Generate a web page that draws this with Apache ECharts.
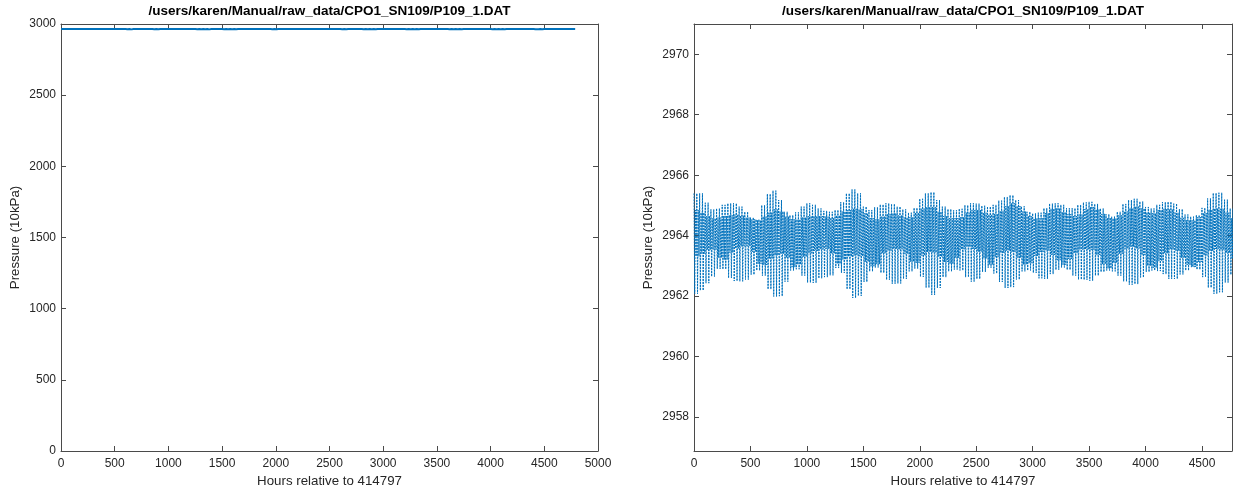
<!DOCTYPE html>
<html>
<head>
<meta charset="utf-8">
<script src="https://cdn.jsdelivr.net/npm/echarts@6/dist/echarts.min.js"></script>
<style>
  html, body { margin: 0; padding: 0; background: #ffffff; }
  #chart { width: 1233px; height: 490px; }
</style>
</head>
<body>
<div id="chart"></div>
<script>
// Pressure record P109_1: tidal high/low levels read in 50-hour windows.
const hours = [
  0, 50, 100, 150, 200, 250, 300, 350, 400, 450, 500, 550, 600, 650, 700, 750,
  800, 850, 900, 950, 1000, 1050, 1100, 1150, 1200, 1250, 1300, 1350, 1400, 1450, 1500, 1550,
  1600, 1650, 1700, 1750, 1800, 1850, 1900, 1950, 2000, 2050, 2100, 2150, 2200, 2250, 2300, 2350,
  2400, 2450, 2500, 2550, 2600, 2650, 2700, 2750, 2800, 2850, 2900, 2950, 3000, 3050, 3100, 3150,
  3200, 3250, 3300, 3350, 3400, 3450, 3500, 3550, 3600, 3650, 3700, 3750, 3800, 3850, 3900, 3950,
  4000, 4050, 4100, 4150, 4200, 4250, 4300, 4350, 4400, 4450, 4500, 4550, 4600, 4650, 4700, 4750
];

// higher high water (10kPa)
const higherHigh = [
  2965.40, 2965.40, 2965.09, 2964.87, 2964.90, 2965.02, 2965.07, 2965.07, 2964.96, 2964.79, 2964.60, 2964.54,
  2965.01, 2965.38, 2965.49, 2965.18, 2964.79, 2964.68, 2964.77, 2964.96, 2965.07, 2965.02, 2964.90, 2964.82,
  2964.79, 2964.85, 2965.11, 2965.40, 2965.53, 2965.40, 2964.96, 2964.85, 2964.94, 2965.03, 2965.07, 2965.05,
  2964.96, 2964.87, 2964.76, 2964.92, 2965.22, 2965.40, 2965.44, 2965.18, 2964.96, 2964.88, 2964.84,
  2964.89, 2965.01, 2965.07, 2965.06, 2964.99, 2964.96, 2965.02, 2965.16, 2965.28, 2965.34, 2965.18, 2964.97,
  2964.79, 2964.74, 2964.76, 2964.91, 2965.06, 2965.07, 2965.02, 2964.91, 2964.91, 2965.02, 2965.10,
  2965.12, 2965.05, 2964.90, 2964.71, 2964.63, 2964.79, 2965.05, 2965.18, 2965.22, 2965.13, 2964.95, 2964.90,
  2965.02, 2965.11, 2965.12, 2965.06, 2964.88, 2964.70, 2964.63, 2964.68, 2964.92, 2965.23, 2965.41, 2965.42,
  2965.19, 2964.90
];

// lower low water
const lowerLow = [
  2962.08, 2962.19, 2962.43, 2962.65, 2962.90, 2962.89, 2962.60, 2962.50, 2962.49, 2962.55, 2962.71, 2962.85,
  2962.68, 2962.23, 2961.99, 2962.00, 2962.48, 2962.85, 2962.89, 2962.68, 2962.45, 2962.44, 2962.59, 2962.63,
  2962.69, 2962.93, 2962.77, 2962.23, 2961.94, 2962.01, 2962.47, 2962.82, 2962.95, 2962.77, 2962.54, 2962.41,
  2962.42, 2962.57, 2962.82, 2962.91, 2962.64, 2962.28, 2962.04, 2962.27, 2962.63, 2962.82, 2962.88,
  2962.85, 2962.63, 2962.48, 2962.57, 2962.80, 2962.94, 2962.75, 2962.47, 2962.27, 2962.30, 2962.55, 2962.82,
  2962.85, 2962.77, 2962.59, 2962.57, 2962.73, 2962.87, 2962.95, 2962.87, 2962.68, 2962.55, 2962.54,
  2962.51, 2962.68, 2962.80, 2962.85, 2962.82, 2962.68, 2962.49, 2962.38, 2962.40, 2962.62, 2962.80, 2962.85,
  2962.83, 2962.73, 2962.57, 2962.57, 2962.72, 2962.85, 2962.96, 2962.88, 2962.63, 2962.28, 2962.08, 2962.13,
  2962.45, 2962.71
];

// lower high water
const lowerHigh = [
  2964.85, 2964.76, 2964.65, 2964.57, 2964.60, 2964.65, 2964.68, 2964.70, 2964.66, 2964.60, 2964.54, 2964.51,
  2964.63, 2964.76, 2964.87, 2964.80, 2964.63, 2964.54, 2964.54, 2964.60, 2964.65, 2964.65, 2964.65, 2964.63,
  2964.59, 2964.67, 2964.80, 2964.85, 2964.89, 2964.87, 2964.74, 2964.58, 2964.54, 2964.63, 2964.72, 2964.74,
  2964.67, 2964.60, 2964.61, 2964.76, 2964.90, 2964.95, 2964.95, 2964.79, 2964.65, 2964.58, 2964.58,
  2964.61, 2964.76, 2964.85, 2964.85, 2964.76, 2964.70, 2964.72, 2964.82, 2964.98, 2965.07, 2964.98, 2964.80,
  2964.65, 2964.57, 2964.57, 2964.75, 2964.89, 2964.90, 2964.78, 2964.71, 2964.65, 2964.70, 2964.88,
  2964.95, 2964.87, 2964.72, 2964.59, 2964.57, 2964.67, 2964.80, 2964.91, 2964.96, 2964.90, 2964.77, 2964.74,
  2964.85, 2964.89, 2964.87, 2964.76, 2964.59, 2964.51, 2964.51, 2964.61, 2964.75, 2964.86, 2964.90, 2964.89,
  2964.76, 2964.57
];

// higher low water
const higherLow = [
  2963.32, 2963.41, 2963.53, 2963.54, 2963.27, 2963.21, 2963.44, 2963.58, 2963.65, 2963.66, 2963.47, 2963.07,
  2963.03, 2963.25, 2963.35, 2963.40, 2963.27, 2962.96, 2963.05, 2963.30, 2963.42, 2963.50, 2963.55, 2963.56,
  2963.42, 2963.07, 2963.21, 2963.31, 2963.35, 2963.32, 2963.14, 2962.99, 2963.06, 2963.42, 2963.51, 2963.56,
  2963.55, 2963.40, 2963.14, 2963.10, 2963.34, 2963.46, 2963.44, 2963.30, 2963.13, 2963.07, 2963.27,
  2963.55, 2963.63, 2963.56, 2963.47, 2963.25, 2963.05, 2963.29, 2963.43, 2963.51, 2963.46, 2963.27, 2963.05,
  2963.09, 2963.33, 2963.47, 2963.51, 2963.36, 2963.19, 2963.04, 2963.23, 2963.42, 2963.54, 2963.55,
  2963.53, 2963.36, 2963.06, 2962.92, 2963.10, 2963.40, 2963.57, 2963.64, 2963.58, 2963.36, 2963.01, 2962.94,
  2963.16, 2963.42, 2963.55, 2963.50, 2963.27, 2963.03, 2962.97, 2963.13, 2963.35, 2963.50, 2963.56, 2963.53,
  2963.43, 2963.24
];

const lastHour = 4766;
const fullXTicks = [0, 500, 1000, 1500, 2000, 2500, 3000, 3500, 4000, 4500, 5000];
const fullYTicks = [0, 500, 1000, 1500, 2000, 2500, 3000];
const zoomXTicks = [0, 500, 1000, 1500, 2000, 2500, 3000, 3500, 4000, 4500];
const zoomYTicks = [2958, 2960, 2962, 2964, 2966, 2968, 2970];

const titleText = '/users/karen/Manual/raw_data/CPO1_SN109/P109_1.DAT';
const xName = 'Hours relative to 414797';
const yName = 'Pressure (10kPa)';

// Within each 50-hour window the tide turns about every 6.25 hours:
// higher high, lower low, lower high, higher low, then the same again.
const TURN = 6.25;
const pressure = [];
hours.forEach((h, i) => {
  const cycle = [higherHigh[i], lowerLow[i], lowerHigh[i], higherLow[i]];
  for (let k = 0; k < 8; k++) {
    pressure.push([h + k * TURN, cycle[k % 4]]);
  }
});

const FONT = '"Liberation Sans", Arial, Helvetica, sans-serif';
const INK = '#262626';
const AXIS = '#4a4a4a';
const BLUE = '#0072BD';
const TICK_SIZE = 12;
const NAME_SIZE = 13.3;

const GRIDS = [
  { left: 61, top: 24, width: 537, height: 427, outerBoundsMode: 'none', containLabel: false },
  { left: 694, top: 24, width: 538, height: 427, outerBoundsMode: 'none', containLabel: false }
];

const plainNumber = v => String(v);

function xPair(gridIndex, min, max, ticks) {
  const common = {
    type: 'value', gridIndex, min, max,
    splitLine: { show: false },
    axisLine: { show: true, onZero: false, lineStyle: { color: AXIS, width: 1 } },
    axisTick: { show: true, inside: true, length: 5, customValues: ticks, lineStyle: { color: AXIS, width: 1 } }
  };
  return [
    Object.assign({}, common, {
      position: 'bottom',
      name: xName, nameLocation: 'middle', nameGap: 22,
      nameTextStyle: { color: INK, fontSize: NAME_SIZE, fontFamily: FONT },
      axisLabel: { customValues: ticks, formatter: plainNumber, margin: 7, color: INK, fontSize: TICK_SIZE, fontFamily: FONT }
    }),
    Object.assign({}, common, { position: 'top', axisLabel: { show: false } })
  ];
}

function yPair(gridIndex, min, max, ticks) {
  const common = {
    type: 'value', gridIndex, min, max,
    splitLine: { show: false },
    axisLine: { show: true, onZero: false, lineStyle: { color: AXIS, width: 1 } },
    axisTick: { show: true, inside: true, length: 5, customValues: ticks, lineStyle: { color: AXIS, width: 1 } }
  };
  return [
    Object.assign({}, common, {
      position: 'left',
      name: yName, nameLocation: 'middle', nameGap: 39, nameRotate: 90,
      nameTextStyle: { color: INK, fontSize: NAME_SIZE, fontFamily: FONT },
      axisLabel: { customValues: ticks, formatter: plainNumber, margin: 5, color: INK, fontSize: TICK_SIZE, fontFamily: FONT }
    }),
    Object.assign({}, common, { position: 'right', axisLabel: { show: false } })
  ];
}

const chart = echarts.init(document.getElementById('chart'), null, { renderer: 'canvas' });

chart.setOption({
  animation: false,
  backgroundColor: '#ffffff',
  grid: GRIDS,
  xAxis: [].concat(xPair(0, 0, 5000, fullXTicks), xPair(1, 0, lastHour, zoomXTicks)),
  yAxis: [].concat(yPair(0, 0, 3000, fullYTicks), yPair(1, 2956.88, 2971.0, zoomYTicks)),
  graphic: GRIDS.map(g => ({
    type: 'text',
    x: g.left + g.width / 2,
    y: 11,
    silent: true,
    style: {
      text: titleText, fill: '#000000',
      font: 'bold 13.5px ' + FONT,
      textAlign: 'center', textVerticalAlign: 'middle'
    }
  })),
  series: [
    {
      type: 'line', xAxisIndex: 0, yAxisIndex: 0,
      data: pressure, symbol: 'none', silent: true, clip: true, sampling: 'none',
      lineStyle: { color: BLUE, width: 2, type: 'solid' }
    },
    {
      type: 'line', xAxisIndex: 2, yAxisIndex: 2,
      data: pressure, symbol: 'none', silent: true, clip: true, sampling: 'none',
      lineStyle: { color: BLUE, width: 1, type: [2, 1] }
    }
  ]
});
</script>
</body>
</html>
